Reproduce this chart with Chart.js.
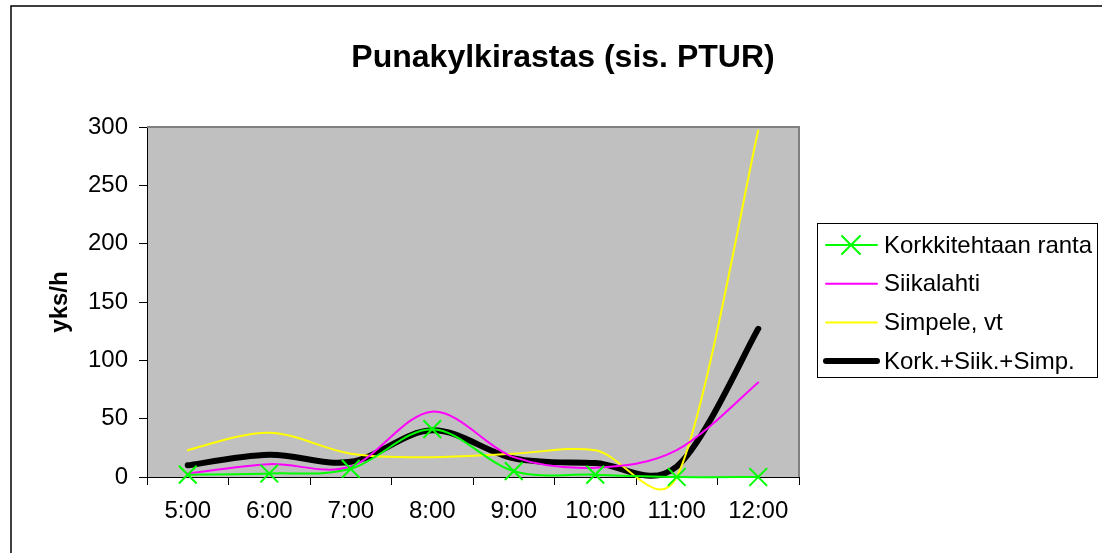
<!DOCTYPE html>
<html>
<head>
<meta charset="utf-8">
<script src="https://cdn.jsdelivr.net/npm/chart.js@4"></script>
<style>
html,body{margin:0;padding:0;background:#fff;}
</style>
</head>
<body>
<canvas id="c" width="1102" height="553"></canvas>
<script>
// Punakylkirastas (sis. PTUR) - havainnot tunneittain
const tunnit = ['5:00','6:00','7:00','8:00','9:00','10:00','11:00','12:00'];
const korkkitehdas = [2, 3, 7, 41, 5, 2, 0, 0];
const siikalahti = [3, 11, 9, 56, 17, 8, 23, 81];
const simpele = [23, 38, 20, 17, 20, 23, 0, 297];
const yhteensa = [10, 19, 13, 40, 16, 12, 9, 127];
const yTicks = [0, 50, 100, 150, 200, 250, 300];

const FONT = '"Liberation Sans", Arial, sans-serif';

function etaisyys(a, b) { return Math.hypot(b.x - a.x, b.y - a.y); }

// Excel-tyylinen pehmennys: kontrollipisteet (P2-P0)/6, rajattuna puoleen janasta
const pehmennys = {
  id: 'pehmennys',
  beforeDatasetsDraw(chart) {
    chart.getSortedVisibleDatasetMetas().forEach(meta => {
      const line = meta.dataset;
      line.updateControlPoints(chart.chartArea, 'x');
      const p = meta.data;
      for (let i = 0; i < p.length - 1; i++) {
        const p0 = p[Math.max(i - 1, 0)], p1 = p[i], p2 = p[i + 1], p3 = p[Math.min(i + 2, p.length - 1)];
        const d12 = etaisyys(p1, p2), d02 = etaisyys(p0, p2), d13 = etaisyys(p1, p3);
        let f0 = 1 / 6, f1 = 1 / 6;
        if (d02 / 6 > d12 / 2) f0 = d12 / 2 / d02;
        if (d13 / 6 > d12 / 2) f1 = d12 / 2 / d13;
        p1.cp2x = p1.x + (p2.x - p0.x) * f0;
        p1.cp2y = p1.y + (p2.y - p0.y) * f0;
        p2.cp1x = p2.x - (p3.x - p1.x) * f1;
        p2.cp1y = p2.y - (p3.y - p1.y) * f1;
      }
      line._path = undefined;
    });
  }
};

const kehys = {
  id: 'kehys',
  beforeDraw(chart) {
    const {ctx, chartArea: a} = chart;
    ctx.save();
    ctx.fillStyle = '#fff';
    ctx.fillRect(0, 0, chart.width, chart.height);
    // ulkoreuna
    ctx.strokeStyle = '#000';
    ctx.lineWidth = 1.5;
    ctx.beginPath();
    ctx.moveTo(11, chart.height);
    ctx.lineTo(11, 6);
    ctx.lineTo(chart.width, 6);
    ctx.stroke();
    ctx.fillStyle = '#c0c0c0';
    ctx.fillRect(a.left, a.top, a.right - a.left, a.bottom - a.top);
    ctx.restore();
  },
  afterDraw(chart) {
    const {ctx, chartArea: a} = chart;
    ctx.save();
    ctx.strokeStyle = '#808080';
    ctx.lineWidth = 2;
    ctx.beginPath();
    ctx.moveTo(a.left, a.top);
    ctx.lineTo(a.right, a.top);
    ctx.lineTo(a.right, a.bottom);
    ctx.stroke();

    // otsikko
    ctx.fillStyle = '#000';
    ctx.font = 'bold 32px ' + FONT;
    ctx.textAlign = 'center';
    ctx.textBaseline = 'middle';
    ctx.fillText('Punakylkirastas (sis. PTUR)', 563, 58);

    // selite
    ctx.strokeStyle = '#000';
    ctx.lineWidth = 1;
    ctx.strokeRect(817.5, 223.5, 280, 154);
    ctx.font = '24px ' + FONT;
    ctx.textAlign = 'left';
    chart.data.datasets.forEach((ds, i) => {
      const y = 245 + i * 38.7;
      ctx.strokeStyle = ds.borderColor;
      ctx.lineWidth = ds.borderWidth;
      ctx.lineCap = 'round';
      ctx.beginPath();
      ctx.moveTo(826, y);
      ctx.lineTo(877, y);
      ctx.stroke();
      if (ds.pointStyle === 'crossRot') {
        const r = 9;
        ctx.lineWidth = 2;
        ctx.beginPath();
        ctx.moveTo(851 - r, y - r); ctx.lineTo(851 + r, y + r);
        ctx.moveTo(851 - r, y + r); ctx.lineTo(851 + r, y - r);
        ctx.stroke();
      }
      ctx.fillStyle = '#000';
      ctx.fillText(ds.label, 884, y + 1);
    });
    ctx.restore();
  }
};

new Chart(document.getElementById('c'), {
  type: 'line',
  data: {
    labels: tunnit,
    datasets: [
      {label: 'Korkkitehtaan ranta', data: korkkitehdas, borderColor: '#00ff00', borderWidth: 2,
       pointStyle: 'crossRot', pointRadius: 12.5, pointBorderWidth: 2, pointBorderColor: '#00ff00', pointBackgroundColor: '#00ff00'},
      {label: 'Siikalahti', data: siikalahti, borderColor: '#ff00ff', borderWidth: 2, pointRadius: 0},
      {label: 'Simpele, vt', data: simpele, borderColor: '#ffff00', borderWidth: 2, pointRadius: 0},
      {label: 'Kork.+Siik.+Simp.', data: yhteensa, borderColor: '#000000', borderWidth: 6, pointRadius: 0}
    ]
  },
  options: {
    responsive: false,
    animation: false,
    clip: false,
    layout: {padding: {left: 0, top: 127, right: 303, bottom: 0}},
    elements: {line: {tension: 0.4, capBezierPoints: false, borderCapStyle: 'round'}},
    plugins: {legend: {display: false}, title: {display: false}, tooltip: {enabled: false}},
    scales: {
      x: {
        offset: true,
        afterFit: s => { s.height = 76; },
        grid: {offset: true, drawOnChartArea: false, tickLength: 8, color: '#000'},
        border: {color: '#000', width: 1},
        ticks: {color: '#000', font: {family: FONT, size: 24}, padding: 12, maxRotation: 0}
      },
      y: {
        min: 0, max: 300,
        afterFit: s => { s.width = 147; },
        afterBuildTicks: s => { s.ticks = yTicks.map(v => ({value: v})); },
        grid: {drawOnChartArea: false, tickLength: 8, color: '#000'},
        border: {color: '#000', width: 1},
        ticks: {color: '#000', font: {family: FONT, size: 24}, padding: 11},
        title: {display: true, text: 'yks/h', color: '#000', font: {family: FONT, size: 24, weight: 'bold'}, padding: {top: 46, bottom: 0}}
      }
    }
  },
  plugins: [pehmennys, kehys]
});
</script>
</body>
</html>
